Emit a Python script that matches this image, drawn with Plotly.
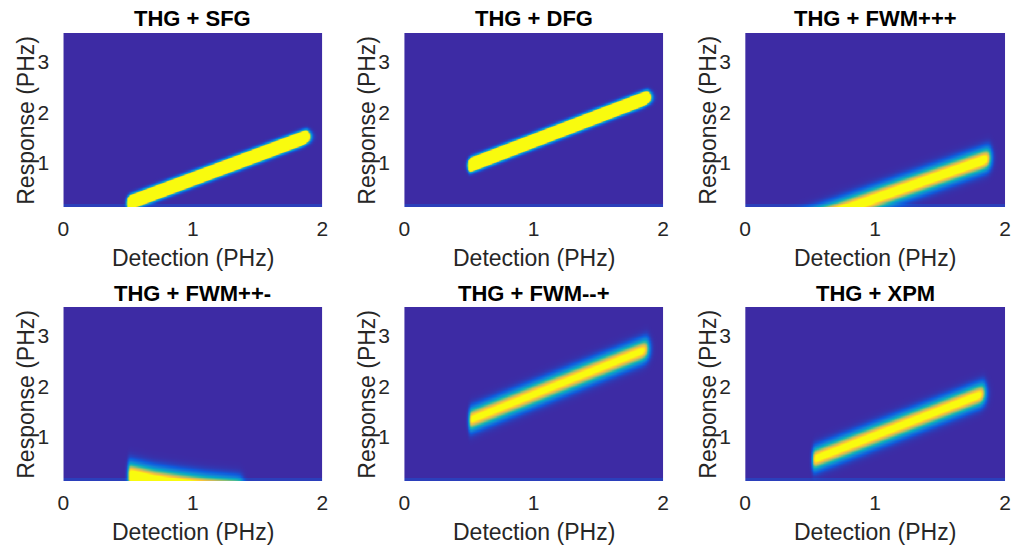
import numpy as np
import plotly.graph_objects as go

# ---- data ----
titles = ["THG + SFG", "THG + DFG", "THG + FWM+++",
          "THG + FWM++-", "THG + FWM--+", "THG + XPM"]
x_ticks = [0, 1, 2]
y_ticks = [1, 2, 3]
x_label = "Detection (PHz)"
y_label = "Response (PHz)"
det_range = [0, 2]
resp_range = [0.12, 3.57]

# band centre line knots (detection -> response), PHz
knots_det = [
    [0.5, 1.88],
    [0.5, 1.88],
    [0.3, 1.88],
    [0.5, 0.7, 0.9, 1.1, 1.3, 1.5],
    [0.5, 1.88],
    [0.52, 1.84],
]
knots_resp = [
    [0.205, 1.52],
    [0.95, 2.30],
    [-0.34, 1.10],
    [0.24, 0.12, 0.04, -0.03, -0.08, -0.13],
    [1.33, 2.75],
    [0.55, 1.87],
]
band_start = [0.5, 0.5, 0.3, 0.5, 0.5, 0.52]
band_end = [1.88, 1.88, 1.88, 1.38, 1.88, 1.84]
band_amp = [6.0, 6.0, 1.15, 1.25, 1.06, 1.08]
band_sigma = [0.068, 0.068, 0.14, 0.16, 0.14, 0.14]

parula = [
    [0.0, "#3d2ba4"], [0.125, "#0f5cdd"], [0.25, "#1481d6"],
    [0.375, "#06a4ca"], [0.5, "#2eb7a4"], [0.625, "#87bf77"],
    [0.75, "#d1bb59"], [0.875, "#fec832"], [1.0, "#f9fb0e"],
]

# grid
xg = np.linspace(det_range[0], det_range[1], 400)
yg = np.linspace(resp_range[0], resp_range[1], 300)
X, Y = np.meshgrid(xg, yg)

# layout geometry (px)
W, H = 1018, 548
col_px = [(58, 320), (403, 665), (748, 1011)]
row_px = [(33, 207), (307, 481)]
FONT = "Liberation Sans, Arial, Helvetica"

fig = go.Figure()
annotations = []
for i in range(6):
    r, c = divmod(i, 3)
    yc = np.interp(X, knots_det[i], knots_resp[i])
    u = (Y - yc) / band_sigma[i]
    mask = 1.0 / (1.0 + np.exp(-(X - band_start[i]) / 0.006))
    mask *= 1.0 / (1.0 + np.exp((X - band_end[i]) / 0.012))
    Z = band_amp[i] * np.exp(-0.5 * u ** 2) * mask
    Z = Z + np.where(Y < 0.2, 0.05, 0.0)
    ax = "" if i == 0 else str(i + 1)
    fig.add_trace(go.Heatmap(
        x=xg, y=yg, z=Z, colorscale=parula, zmin=0, zmax=1,
        showscale=False, hoverinfo="skip", zsmooth="best",
        xaxis="x" + ax, yaxis="y" + ax))
    x0, x1 = col_px[c]
    y0, y1 = row_px[r]
    dx = [x0 / W, x1 / W]
    dy = [1 - y1 / H, 1 - y0 / H]
    common = dict(showgrid=False, zeroline=False, showline=False,
                  ticks="outside", tickcolor="rgba(0,0,0,0)",
                  tickfont=dict(family=FONT, size=21, color="#262626"))
    fig.update_layout(**{
        "xaxis" + ax: dict(domain=dx, range=det_range, tickvals=x_ticks,
                           ticklen=3, anchor="y" + ax, **common),
        "yaxis" + ax: dict(domain=dy, range=resp_range, tickvals=y_ticks,
                           ticklen=9, anchor="x" + ax, **common),
    })
    xm = (x0 + x1) / 2
    annotations.append(dict(text="<b>" + titles[i] + "</b>", x=xm / W,
                            y=1 - (y0 - 14) / H, xref="paper", yref="paper",
                            showarrow=False, xanchor="center", yanchor="middle",
                            font=dict(family=FONT, size=22, color="#000000")))
    annotations.append(dict(text=x_label, x=xm / W, y=1 - (y1 + 51) / H,
                            xref="paper", yref="paper", showarrow=False,
                            xanchor="center", yanchor="middle",
                            font=dict(family=FONT, size=23, color="#262626")))
    annotations.append(dict(text=y_label, x=(x0 - 38) / W,
                            y=1 - (y0 + y1) / 2 / H, xref="paper", yref="paper",
                            showarrow=False, xanchor="center", yanchor="middle",
                            textangle=-90,
                            font=dict(family=FONT, size=23, color="#262626")))

fig.update_layout(width=W, height=H, margin=dict(l=0, r=0, t=0, b=0),
                  paper_bgcolor="white", plot_bgcolor="white",
                  annotations=annotations, showlegend=False)
fig.write_html("out.html", config={"displayModeBar": False},
               post_script="document.body.style.margin='0';"
                           "document.body.style.overflow='hidden';")
